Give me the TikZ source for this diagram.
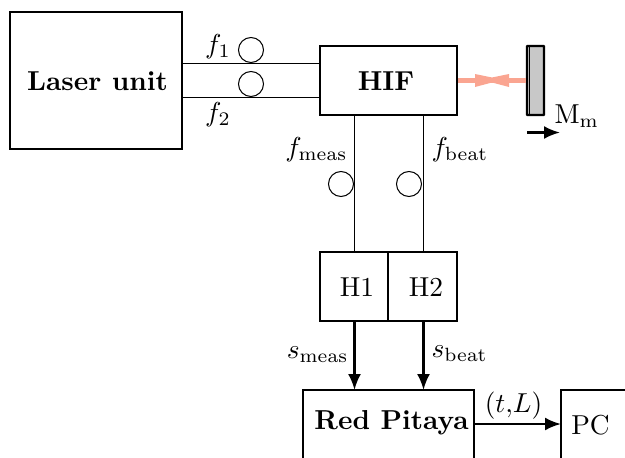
\documentclass[tikz,border=0pt]{standalone}
\usetikzlibrary{arrows.meta,calc}
\definecolor{beamc}{RGB}{250,165,145}
\definecolor{mirrorc}{RGB}{200,200,200}
\tikzset{
  boxb/.style={draw,line width=2.4pt,inner sep=0pt,outer sep=0pt,anchor=north west},
  thinl/.style={line width=0.9pt},
  fibre/.style={draw,circle,line width=1pt,inner sep=0pt,outer sep=0pt,minimum size=25pt},
  sig/.style={line width=2.4pt,-{Latex[length=16pt,width=13pt]}},
  lbl/.style={inner sep=0pt,scale=2.74},
  beam/.style={line width=5pt,color=beamc},
}
\begin{document}
\begin{tikzpicture}[x=1pt,y=-1pt]
\useasboundingbox (0,0) rectangle (625,458);
\clip (0,0) rectangle (625,458);
\node[boxb,minimum width=172pt,minimum height=137pt] (laser) at (10,12) {};
\node[lbl] (lasert) at (97.5,81) {\textbf{Laser unit}};
\node[boxb,minimum width=137pt,minimum height=69pt] (hif) at (320,46) {};
\node[lbl] (hift) at (386,81) {\textbf{HIF}};
\node[boxb,minimum width=68pt,minimum height=69pt] (h1) at (320,252) {};
\node[lbl] (h1t) at (357,287.5) {H1};
\node[boxb,minimum width=69pt,minimum height=69pt] (h2) at (388,252) {};
\node[lbl] (h2t) at (426,287.5) {H2};
\node[boxb,minimum width=171pt,minimum height=100pt] (rp) at (303,390) {};
\node[lbl] (rpt) at (391.5,423) {\textbf{Red Pitaya}};
\node[boxb,minimum width=100pt,minimum height=100pt] (pc) at (561,390) {};
\node[lbl] (pct) at (590.5,425.5) {PC};
\coordinate (a1) at (182,63.5);
\coordinate (b1) at (320,63.5);
\coordinate (a2) at (182,97.5);
\coordinate (b2) at (320,97.5);
\draw[thinl] (a1) -- (b1);
\draw[thinl] (a2) -- (b2);
\node[fibre] (c1) at (251,50) {};
\node[fibre] (c2) at (251,84) {};
\node[lbl] (f1) at (218,47) {$f_1$};
\node[lbl] (f2) at (218,115) {$f_2$};
\coordinate (h1top) at (354.5,252);
\coordinate (h2top) at (423.5,252);
\coordinate (hb1) at (354.5,115);
\coordinate (hb2) at (423.5,115);
\draw[thinl] (hb1) -- (h1top);
\draw[thinl] (hb2) -- (h2top);
\node[fibre] (c3) at (341,184) {};
\node[fibre] (c4) at (409,184) {};
\node[lbl,anchor=east] (fm) at (348,150) {$f_{\mathrm{meas}}$};
\node[lbl,anchor=west] (fb) at (431,150) {$f_{\mathrm{beat}}$};
\coordinate (h1b) at (354.5,321);
\coordinate (h2b) at (423.5,321);
\coordinate (rp1) at (354.5,390);
\coordinate (rp2) at (423.5,390);
\draw[sig] (h1b) -- (rp1);
\draw[sig] (h2b) -- (rp2);
\node[lbl,anchor=east] (sm) at (349,355) {$s_{\mathrm{meas}}$};
\node[lbl,anchor=west] (sb) at (431,354) {$s_{\mathrm{beat}}$};
\coordinate (rpr) at (474,424);
\coordinate (pcl) at (561,424);
\draw[sig] (rpr) -- (pcl);
\node[lbl] (tl) at (513.5,406) {$(t{,}L)$};
% mirror
\draw[line width=2.4pt,fill=mirrorc,rounded corners=0.5pt] (527,46) rectangle (544,115);
\draw[line width=1pt] (529.5,46) -- (529.5,115);
% beam
\coordinate (hr) at (458,80);
\coordinate (ml) at (526,80);
\draw[beam] (hr) -- (ml);
\fill[beamc] (475,74) -- (492,77.5) -- (509,74) -- (509,87) -- (492,82.5) -- (475,87) -- cycle;
\coordinate (arrs) at (527,132.5);
\coordinate (arre) at (560,132.5);
\draw[sig] (arrs) -- (arre);
\node[lbl,anchor=west] (mm) at (554,116) {$\mathrm{M}_{\mathrm{m}}$};
\end{tikzpicture}
\end{document}
